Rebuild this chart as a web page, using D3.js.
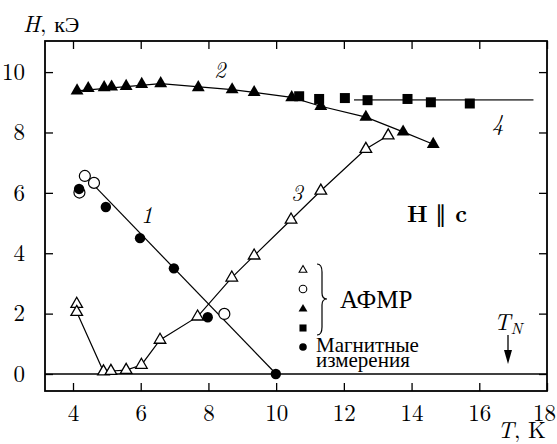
<!DOCTYPE html>
<html>
<head>
<meta charset="utf-8">
<script src="https://cdn.jsdelivr.net/npm/d3@7"></script>
<style>
  html, body { margin: 0; padding: 0; background: #fff; }
</style>
</head>
<body>
<svg id="chart" width="557" height="444"></svg>
<script>
// tick labels
const xTicks = [4, 6, 8, 10, 12, 14, 16, 18];
const yTicks = [0, 2, 4, 6, 8, 10];

// open triangles (АФМР, curve 3)
const openTriT = [4.11, 4.11, 4.9, 5.12, 5.57, 6.02, 6.57, 7.68, 8.69, 9.35, 10.44, 11.32, 12.65, 13.31];
const openTriH = [2.32, 2.05, 0.08, 0.1, 0.13, 0.3, 1.13, 1.9, 3.19, 3.92, 5.11, 6.07, 7.45, 7.9];

// open circles (АФМР, curve 1)
const openCirT = [4.19, 4.35, 4.62, 8.47];
const openCirH = [6.01, 6.56, 6.33, 1.99];

// filled triangles (АФМР, curve 2)
const fillTriT = [4.12, 4.45, 4.92, 5.14, 5.57, 6.03, 6.59, 7.7, 8.7, 9.35, 10.46, 11.32, 12.65, 13.75, 14.64];
const fillTriH = [9.38, 9.46, 9.49, 9.51, 9.53, 9.6, 9.62, 9.49, 9.42, 9.33, 9.16, 8.87, 8.51, 8.02, 7.61];

// filled squares (АФМР, curve 4)
const squareT = [10.68, 11.27, 12.03, 12.7, 13.88, 14.57, 15.72];
const squareH = [9.2, 9.11, 9.14, 9.07, 9.11, 9.0, 8.96];

// filled circles (magnetic measurements)
const fillCirT = [4.18, 4.97, 5.98, 6.98, 7.98, 9.99];
const fillCirH = [6.13, 5.53, 4.5, 3.5, 1.88, 0];

// guide lines
const line1T = [4.35, 10];
const line1H = [6.56, 0];
const line2T = [4.12, 6.59, 8.7, 9.35, 10.46, 11.32, 12.65, 13.75, 14.64];
const line2H = [9.38, 9.62, 9.42, 9.33, 9.16, 8.87, 8.51, 8.02, 7.61];
const line4T = [12.3, 17.6];
const line4H = [9.08, 9.08];

const FONT = "'Latin Modern Roman'";
const CYR = "'Liberation Serif'";

const svg = d3.select('#chart');
const margin = { top: 41, right: 10, bottom: 53, left: 45 };
const width = +svg.attr('width') - margin.left - margin.right;
const height = +svg.attr('height') - margin.top - margin.bottom;

const x = d3.scaleLinear().domain([3.173, 18]).range([0, width]);
const y = d3.scaleLinear().domain([-0.563, 11.03]).range([height, 0]);

const g = svg.append('g')
  .attr('transform', `translate(${margin.left},${margin.top})`);

// axes with inward ticks
const tickLen = 8;
g.append('g')
  .attr('transform', `translate(0,${height})`)
  .call(d3.axisBottom(x).tickValues(xTicks).tickSizeInner(-tickLen).tickSizeOuter(0).tickPadding(14))
  .call(ax => ax.selectAll('.tick text').filter(d => d === 18).attr('dx', -3));
g.append('g')
  .call(d3.axisTop(x).tickValues(xTicks).tickSizeInner(-tickLen).tickSizeOuter(0).tickFormat(''));
g.append('g')
  .call(d3.axisLeft(y).tickValues(yTicks).tickSizeInner(-tickLen).tickSizeOuter(0).tickPadding(20));
g.append('g')
  .attr('transform', `translate(${width},0)`)
  .call(d3.axisRight(y).tickValues(yTicks).tickSizeInner(-tickLen).tickSizeOuter(0).tickFormat(''));

g.selectAll('.domain').remove();
g.selectAll('.tick line').attr('stroke', '#000').attr('stroke-width', 1.3);
g.selectAll('.tick text')
  .style('font-family', FONT).style('font-size', '23px').attr('fill', '#000');

g.append('rect')
  .attr('width', width).attr('height', height)
  .attr('fill', 'none').attr('stroke', '#000').attr('stroke-width', 1.8);

// zero line
g.append('line')
  .attr('x1', 0).attr('x2', width)
  .attr('y1', y(0)).attr('y2', y(0))
  .attr('stroke', '#000').attr('stroke-width', 1.6);

const zip = (a, b) => a.map((v, i) => [v, b[i]]);
const line = d3.line().x(d => x(d[0])).y(d => y(d[1]));

g.append('path').datum(zip(line1T, line1H))
  .attr('d', line).attr('fill', 'none').attr('stroke', '#000').attr('stroke-width', 1.2);
g.append('path').datum(zip(line2T, line2H))
  .attr('d', line).attr('fill', 'none').attr('stroke', '#000').attr('stroke-width', 1.2);
g.append('path').datum(zip(openTriT, openTriH).slice(1))
  .attr('d', line).attr('fill', 'none').attr('stroke', '#000').attr('stroke-width', 1.2);
g.append('path').datum(zip(line4T, line4H))
  .attr('d', line).attr('fill', 'none').attr('stroke', '#555').attr('stroke-width', 1.6);

const tri = d3.symbol().type(d3.symbolTriangle);
const sq = d3.symbol().type(d3.symbolSquare);

// open circles
g.selectAll('.ocir').data(zip(openCirT, openCirH)).join('circle')
  .attr('cx', d => x(d[0])).attr('cy', d => y(d[1])).attr('r', 5.5)
  .attr('fill', '#fff').attr('stroke', '#000').attr('stroke-width', 1.2);

// open triangles
g.selectAll('.otri').data(zip(openTriT, openTriH)).join('path')
  .attr('transform', d => `translate(${x(d[0])},${y(d[1])})`)
  .attr('d', tri.size(58))
  .attr('fill', '#fff').attr('stroke', '#000').attr('stroke-width', 1.3);

// filled triangles
g.selectAll('.ftri').data(zip(fillTriT, fillTriH)).join('path')
  .attr('transform', d => `translate(${x(d[0])},${y(d[1])})`)
  .attr('d', tri.size(72))
  .attr('fill', '#000');

// squares
g.selectAll('.sq').data(zip(squareT, squareH)).join('path')
  .attr('transform', d => `translate(${x(d[0])},${y(d[1])})`)
  .attr('d', sq.size(100))
  .attr('fill', '#000');

// filled circles
g.selectAll('.fcir').data(zip(fillCirT, fillCirH)).join('circle')
  .attr('cx', d => x(d[0])).attr('cy', d => y(d[1])).attr('r', 5.2)
  .attr('fill', '#000');

function txt(xp, yp, size, fam) {
  return svg.append('text').attr('x', xp).attr('y', yp)
    .style('font-family', fam || FONT).style('font-size', size + 'px').attr('fill', '#000');
}

// curve numbers
const curveLabels = [['1', 147, 215], ['2', 220, 70], ['3', 297, 193], ['4', 498, 123]];
curveLabels.forEach(d => {
  txt(d[1], d[2] + 8, 23).attr('text-anchor', 'middle').style('font-style', 'italic').text(d[0]);
});

// H || c
const hc = txt(437, 222, 23).attr('text-anchor', 'middle');
hc.append('tspan').style('font-weight', 'bold').text('H');
hc.append('tspan').text(' \u2225 ');
hc.append('tspan').style('font-weight', 'bold').text('c');

// axis titles
const yt = txt(23, 32, 23);
yt.append('tspan').style('font-style', 'italic').text('H');
yt.append('tspan').text(', ');
yt.append('tspan').style('font-family', CYR).style('font-size', '22px').text('кЭ');

const xt = txt(546, 438, 23).attr('text-anchor', 'end');
xt.append('tspan').style('font-style', 'italic').text('T');
xt.append('tspan').text(', K');

// T_N with arrow
const tn = txt(494, 330, 23);
tn.append('tspan').style('font-style', 'italic').text('T');
tn.append('tspan').style('font-style', 'italic').style('font-size', '16px').attr('dy', 4).text('N');
svg.append('line').attr('x1', 508).attr('x2', 508).attr('y1', 335).attr('y2', 356)
  .attr('stroke', '#000').attr('stroke-width', 1.3);
svg.append('path').attr('d', 'M504,350 L512,350 L508,364 Z').attr('fill', '#000');

// legend
const lx = 303;
svg.append('path').attr('transform', `translate(${lx},270)`)
  .attr('d', d3.symbol().type(d3.symbolTriangle).size(26)())
  .attr('fill', '#fff').attr('stroke', '#000').attr('stroke-width', 1.1);
svg.append('circle').attr('cx', lx).attr('cy', 289).attr('r', 3.8)
  .attr('fill', '#fff').attr('stroke', '#000').attr('stroke-width', 1.1);
svg.append('path').attr('transform', `translate(${lx},309)`)
  .attr('d', d3.symbol().type(d3.symbolTriangle).size(34)())
  .attr('fill', '#000');
svg.append('path').attr('transform', `translate(${lx},328)`)
  .attr('d', d3.symbol().type(d3.symbolSquare).size(50)())
  .attr('fill', '#000');
svg.append('circle').attr('cx', lx).attr('cy', 347).attr('r', 3.8).attr('fill', '#000');

// curly brace
const bx = 317, by0 = 264, by1 = 335, bm = 299;
svg.append('path')
  .attr('d', `M${bx},${by0} Q${bx + 5},${by0} ${bx + 5},${by0 + 8} L${bx + 5},${bm - 6} Q${bx + 5},${bm} ${bx + 10},${bm} ` +
    `Q${bx + 5},${bm} ${bx + 5},${bm + 6} L${bx + 5},${by1 - 8} Q${bx + 5},${by1} ${bx},${by1}`)
  .attr('fill', 'none').attr('stroke', '#000').attr('stroke-width', 1.2);

txt(340, 308, 25, CYR).text('АФМР');
txt(316, 352, 21, CYR).text('Магнитные');
txt(316, 367, 21, CYR).text('измерения');
</script>
</body>
</html>
